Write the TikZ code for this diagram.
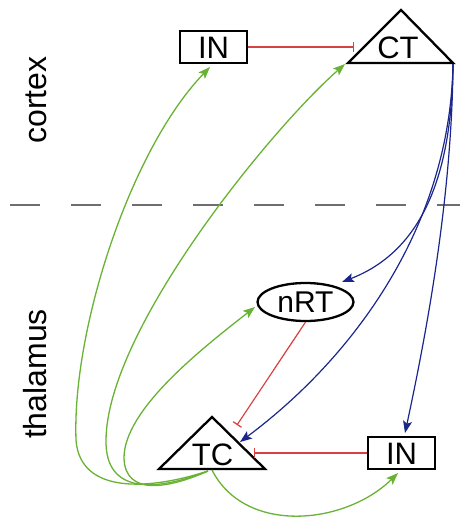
\documentclass[tikz,border=0pt]{standalone}
\usepackage{fontspec}
\setmainfont{Liberation Sans}
\usetikzlibrary{arrows.meta,shapes.geometric}
\definecolor{exc}{RGB}{104,178,52}
\definecolor{ctx}{RGB}{26,38,140}
\definecolor{inh}{RGB}{214,66,66}
\definecolor{divider}{RGB}{110,110,110}

\begin{document}
\begin{tikzpicture}[x=1pt,y=-1pt,
  region/.style={font=\fontsize{32}{36}\selectfont, rotate=90, inner sep=0pt},
  cellbox/.style={draw, line width=2.3pt, minimum width=67pt, minimum height=32pt,
    inner sep=0pt, text height=22pt, text depth=0pt, font=\fontsize{31}{34}\selectfont},
  cellellipse/.style={ellipse, draw, line width=2.3pt, minimum width=96pt, minimum height=38pt,
    inner sep=0pt, text height=21pt, text depth=0pt, font=\fontsize{30}{34}\selectfont},
  celltext/.style={inner sep=0pt, anchor=base, font=\fontsize{31}{34}\selectfont},
  outline/.style={draw, line width=2.3pt, line join=miter},
  excite/.style={draw=exc, line width=1.3pt, -{Stealth[length=12pt,width=9pt,inset=2.5pt]}},
  descend/.style={draw=ctx, line width=1.2pt, -{Stealth[length=12pt,width=9pt,inset=2.5pt]}},
  inhibit/.style={draw=inh, line width=1.2pt, -{Bar[width=10pt,line width=1.2pt]}},
  divide/.style={draw=divider, line width=2.5pt, dash pattern=on 30pt off 31pt}]

\useasboundingbox (0,0) rectangle (460,517);

% cortex / thalamus boundary
\coordinate (lineL) at (10,205);
\coordinate (lineR) at (460,205);
\draw[divide] (lineL) -- (lineR);

\node[region] (cortex) at (36,100) {cortex};
\node[region] (thalamus) at (35,374) {thalamus};

% cortical interneuron and corticothalamic cell
\node[cellbox] (IN1) at (213.5,47) {IN};
\node[celltext] (CT) at (398,58) {CT};
\draw[outline] (348,63) coordinate (CT-l) -- (401,10) coordinate (CT-a) -- (453,63) coordinate (CT-r) -- cycle;

% thalamic cells
\node[cellellipse] (nRT) at (305.5,302) {nRT};
\node[celltext] (TC) at (212.5,465) {TC};
\draw[outline] (159,469) coordinate (TC-l) -- (212,417) coordinate (TC-a) -- (265,469) coordinate (TC-r) -- cycle;
\node[cellbox] (IN2) at (401.5,453) {IN};

% connector end points
\coordinate (ctbar) at (354,47);
\coordinate (tcbar) at (254,453);
\coordinate (nrtbar) at (237,425);
\coordinate (tcfoot) at (208,471);
\coordinate (tcfoot2) at (212,470);
\coordinate (ctfoot) at (453,64);
\coordinate (in1tip) at (210,67);
\coordinate (cttip) at (345,64);
\coordinate (nrttip) at (255,307);
\coordinate (in2tip) at (398,473);
\coordinate (nrtin) at (342,282);
\coordinate (tcin) at (240,442);
\coordinate (in2top) at (405,433);

% inhibitory links
\draw[inhibit] (IN1.east) -- (ctbar);
\draw[inhibit] (IN2.west) -- (tcbar);
\draw[inhibit] (nRT.south) -- (nrtbar);

% corticothalamic projections
\draw[descend] (ctfoot) .. controls (452,170) and (425,250) .. (nrtin);
\draw[descend] (ctfoot) .. controls (450,230) and (350,360) .. (tcin);
\draw[descend] (ctfoot) .. controls (452,200) and (425,340) .. (in2top);

% thalamocortical projections
\draw[excite] (tcfoot) .. controls (150,490) and (80,495) .. (76,440)
  .. controls (72,330) and (130,150) .. (in1tip);
\draw[excite] (tcfoot) .. controls (160,490) and (105,497) .. (106,440)
  .. controls (107,330) and (270,130) .. (cttip);
\draw[excite] (tcfoot) .. controls (170,488) and (125,497) .. (124,458)
  .. controls (124,410) and (200,350) .. (nrttip);
\draw[excite] (tcfoot2) .. controls (245,535) and (345,525) .. (in2tip);
\end{tikzpicture}
\end{document}
